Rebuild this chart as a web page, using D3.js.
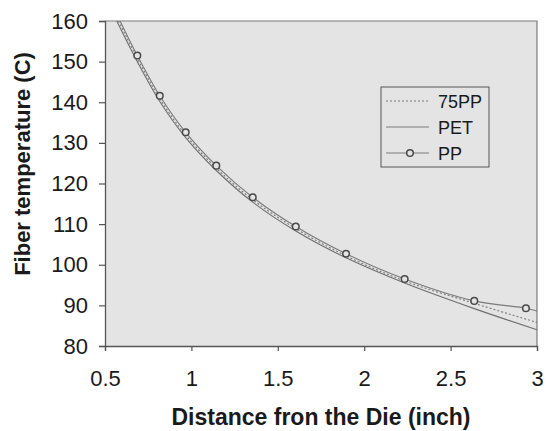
<!DOCTYPE html>
<html>
<head>
<meta charset="utf-8">
<script src="https://cdn.jsdelivr.net/npm/d3@7"></script>
<style>
  body { margin: 0; background: #fff; }
  text { font-family: "Liberation Sans", Arial, sans-serif; fill: #1a1a1a; }
</style>
</head>
<body>
<svg width="547" height="431"></svg>
<script>
// values
var xTicks = [0.5, 1, 1.5, 2, 2.5, 3];
var yTicks = [80, 90, 100, 110, 120, 130, 140, 150, 160];

var ppX = [0.587, 0.687, 0.817, 0.967, 1.144, 1.355, 1.604, 1.895, 2.234, 2.637, 2.936, 3.0];
var ppY = [160, 151.5, 141.6, 132.6, 124.4, 116.6, 109.4, 102.7, 96.5, 91.1, 89.3, 88.6];
var ppMarkers = [1, 2, 3, 4, 5, 6, 7, 8, 9, 10]; // indexes of ppX that carry a circle

var petX = [0.568, 0.687, 0.817, 0.967, 1.144, 1.355, 1.604, 1.895, 2.234, 2.637, 3.0];
var petY = [160, 150.0, 140.2, 131.3, 123.2, 115.4, 108.3, 101.7, 95.5, 89.2, 84.0];

var pp75X = [0.578, 0.687, 0.817, 0.967, 1.144, 1.355, 1.604, 1.895, 2.234, 2.637, 3.0];
var pp75Y = [160, 150.8, 140.9, 131.9, 123.8, 116.0, 108.9, 102.2, 96.0, 90.5, 85.8];

var legendNames = ["75PP", "PET", "PP"];

var svg = d3.select("svg");
var mLeft = 105, mTop = 21, mRight = 537, mBottom = 346;

var x = d3.scaleLinear().domain([0.5, 3]).range([mLeft, mRight]);
var y = d3.scaleLinear().domain([80, 160]).range([mBottom, mTop]);

// plot background
svg.append("rect")
  .attr("x", mLeft).attr("y", mTop)
  .attr("width", mRight - mLeft).attr("height", mBottom - mTop)
  .attr("fill", "#e4e4e4");

// top + right frame
svg.append("path")
  .attr("d", "M" + mLeft + "," + mTop + "H" + mRight + "V" + mBottom)
  .attr("fill", "none").attr("stroke", "#7a7a7a").attr("stroke-width", 1.2);

svg.append("clipPath").attr("id", "clip")
  .append("rect").attr("x", mLeft).attr("y", mTop)
  .attr("width", mRight - mLeft).attr("height", mBottom - mTop);

var xAxis = svg.append("g")
  .attr("transform", "translate(0," + mBottom + ")")
  .call(d3.axisBottom(x).tickValues(xTicks).tickSize(5).tickPadding(19)
    .tickFormat(function(d) { return String(d); }));
var yAxis = svg.append("g")
  .attr("transform", "translate(" + mLeft + ",0)")
  .call(d3.axisLeft(y).tickValues(yTicks).tickSize(6).tickPadding(11));

[xAxis, yAxis].forEach(function(a) {
  a.attr("font-size", 22).attr("font-family", "'Liberation Sans', Arial, sans-serif");
  a.select(".domain").attr("stroke", "#555").attr("stroke-width", 1.3);
  a.selectAll(".tick line").attr("stroke", "#555").attr("stroke-width", 1.2);
  a.selectAll("text").attr("fill", "#1a1a1a");
});

// axis titles
svg.append("text")
  .attr("x", 321).attr("y", 425)
  .attr("text-anchor", "middle")
  .attr("font-size", 23).attr("font-weight", "bold")
  .text("Distance fron the Die (inch)");
svg.append("text")
  .attr("transform", "translate(30,164) rotate(-90)")
  .attr("text-anchor", "middle")
  .attr("font-size", 22).attr("font-weight", "bold")
  .text("Fiber temperature (C)");

var line = d3.line()
  .x(function(d) { return x(d[0]); })
  .y(function(d) { return y(d[1]); })
  .curve(d3.curveCatmullRom);

var plot = svg.append("g").attr("clip-path", "url(#clip)");

var petData = d3.zip(petX, petY);
var pp75Data = d3.zip(pp75X, pp75Y);
var ppData = d3.zip(ppX, ppY);

plot.append("path").datum(petData)
  .attr("d", line).attr("fill", "none")
  .attr("stroke", "#6f6f6f").attr("stroke-width", 1.1);
plot.append("path").datum(pp75Data)
  .attr("d", line).attr("fill", "none")
  .attr("stroke", "#7a7a7a").attr("stroke-width", 1.1)
  .attr("stroke-dasharray", "2,2");
plot.append("path").datum(ppData)
  .attr("d", line).attr("fill", "none")
  .attr("stroke", "#7a7a7a").attr("stroke-width", 1.1);

plot.selectAll("circle.pp")
  .data(ppMarkers.map(function(i) { return ppData[i]; }))
  .enter().append("circle")
  .attr("class", "pp")
  .attr("cx", function(d) { return x(d[0]); })
  .attr("cy", function(d) { return y(d[1]); })
  .attr("r", 3.3)
  .attr("fill", "#e4e4e4")
  .attr("stroke", "#4a4a4a").attr("stroke-width", 1.5);

// legend
var lg = svg.append("g").attr("transform", "translate(381,87)");
lg.append("rect")
  .attr("width", 108).attr("height", 80)
  .attr("fill", "#e4e4e4").attr("stroke", "#555").attr("stroke-width", 1);

var row = lg.selectAll("g.row").data(legendNames).enter().append("g")
  .attr("class", "row")
  .attr("transform", function(d, i) { return "translate(0," + (14 + i * 26) + ")"; });

row.append("line")
  .attr("x1", 5).attr("x2", 48).attr("y1", 0).attr("y2", 0)
  .attr("stroke", "#7a7a7a").attr("stroke-width", 1.1)
  .attr("stroke-dasharray", function(d) { return d === "75PP" ? "2,2" : null; });
row.filter(function(d) { return d === "PP"; }).append("circle")
  .attr("cx", 29).attr("cy", 0).attr("r", 3.3)
  .attr("fill", "#e4e4e4").attr("stroke", "#4a4a4a").attr("stroke-width", 1.5);
row.append("text")
  .attr("x", 57).attr("y", 6.5)
  .attr("font-size", 18)
  .text(function(d) { return d; });
</script>
</body>
</html>
